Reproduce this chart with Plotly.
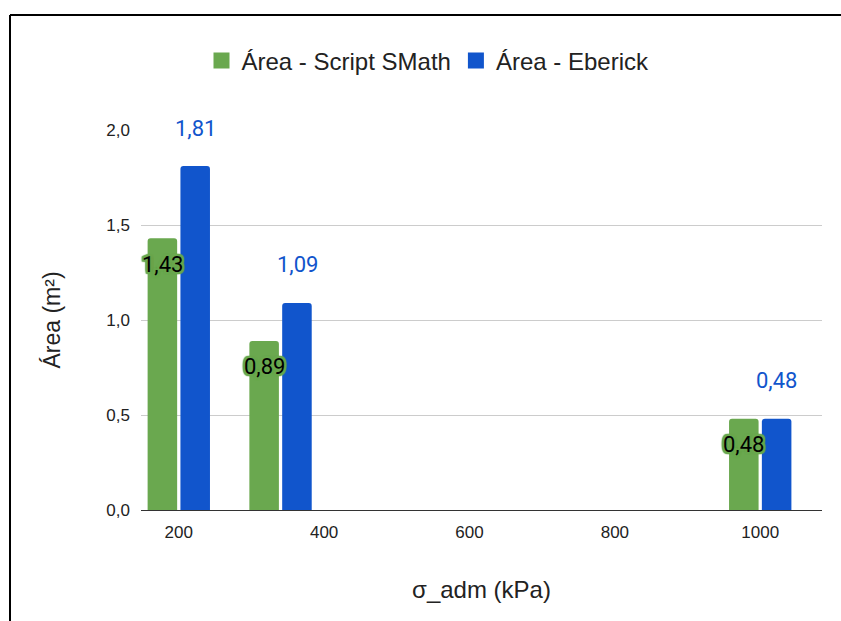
import plotly.graph_objects as go

# Data
sigma_adm = [200, 340, 1000]
area_smath = [1.43, 0.89, 0.48]
area_eberick = [1.81, 1.09, 0.48]
smath_labels = ["1,43", "0,89", "0,48"]
eberick_labels = ["1,81", "1,09", "0,48"]
y_tickvals = [0, 0.5, 1.0, 1.5, 2.0]
y_ticktext = ["0,0", "0,5", "1,0", "1,5", "2,0"]
x_tickvals = [200, 400, 600, 800, 1000]
series_names = ["Área - Script SMath", "Área - Eberick"]

GREEN = "#6aa84f"
BLUE = "#1155cc"
FONT = "Liberation Sans, Arial, sans-serif"
LABEL_FONT = "Roboto"

fig = go.Figure()
for name, vals, col in zip(series_names, [area_smath, area_eberick], [GREEN, BLUE]):
    fig.add_trace(go.Bar(x=sigma_adm, y=vals, name=name, showlegend=False,
                         marker=dict(color=col, line=dict(width=0))))
# legend entries with larger square swatches
for name, col in zip(series_names, [GREEN, BLUE]):
    fig.add_trace(go.Scatter(x=[None], y=[None], mode="markers", name=name,
                             marker=dict(symbol="square", size=16, color=col)))

annotations = []
halo = ", ".join([f"{dx}px {dy}px 1px {GREEN}" for dx in (-2, -1, 0, 1, 2) for dy in (-2, -1, 0, 1, 2)])
for xv, yv, t in zip(sigma_adm, area_smath, smath_labels):
    annotations.append(dict(x=xv, y=yv, xref="x", yref="y", text=t, showarrow=False,
                            xshift=-16.5, yshift=-26, yanchor="middle",
                            font=dict(family=LABEL_FONT, size=22, color="#000000", shadow=halo)))
for xv, yv, t in zip(sigma_adm, area_eberick, eberick_labels):
    annotations.append(dict(x=xv, y=yv, xref="x", yref="y", text=t, showarrow=False,
                            xshift=16.5, yshift=38, yanchor="middle",
                            font=dict(family=LABEL_FONT, size=22, color=BLUE)))

L, R, T, B = 141, 19, 130, 111
W, H = 841, 621
pw, ph = W - L - R, H - T - B
bx = (10 - L) / pw
by = (H - B - 15) / ph
bottom = -(B + 5) / ph

fig.update_layout(
    width=W, height=H,
    margin=dict(l=L, r=R, t=T, b=B, autoexpand=False),
    paper_bgcolor="white", plot_bgcolor="white",
    barmode="group", bargap=0.355, bargroupgap=0.1, barcornerradius=3,
    font=dict(family=FONT, size=17, color="#222222"),
    legend=dict(orientation="h", x=(428 - L) / pw, xanchor="center",
                y=(H - B - 61) / ph, yanchor="middle",
                font=dict(family=FONT, size=24, color="#222222"),
                itemwidth=30, traceorder="normal"),
    annotations=annotations,
    shapes=[
        dict(type="line", xref="paper", yref="paper", x0=bx, x1=bx, y0=bottom, y1=by,
             line=dict(color="black", width=2)),
        dict(type="line", xref="paper", yref="paper", x0=bx, x1=(W + 5 - L) / pw, y0=by, y1=by,
             line=dict(color="black", width=2)),
    ],
    xaxis=dict(range=[148, 1085], tickvals=x_tickvals, ticktext=[str(v) for v in x_tickvals],
               showgrid=False, zeroline=False, showline=True, linecolor="#333333", linewidth=1,
               ticks="", ticklabelstandoff=7, tickfont=dict(size=17, color="#222222"),
               title=dict(text="σ_adm (kPa)", standoff=39, font=dict(size=24, color="#222222"))),
    yaxis=dict(range=[0, 2.0], tickvals=y_tickvals, ticktext=y_ticktext,
               showgrid=True, gridcolor="#cccccc", gridwidth=1, zeroline=False,
               ticks="", ticklabelstandoff=10, tickfont=dict(size=17, color="#222222"),
               title=dict(text="Área (m²)", standoff=39, font=dict(size=23, color="#222222"))),
)

fig.write_html("out.html", config={"displayModeBar": False},
               post_script="document.body.style.margin='0px';")
